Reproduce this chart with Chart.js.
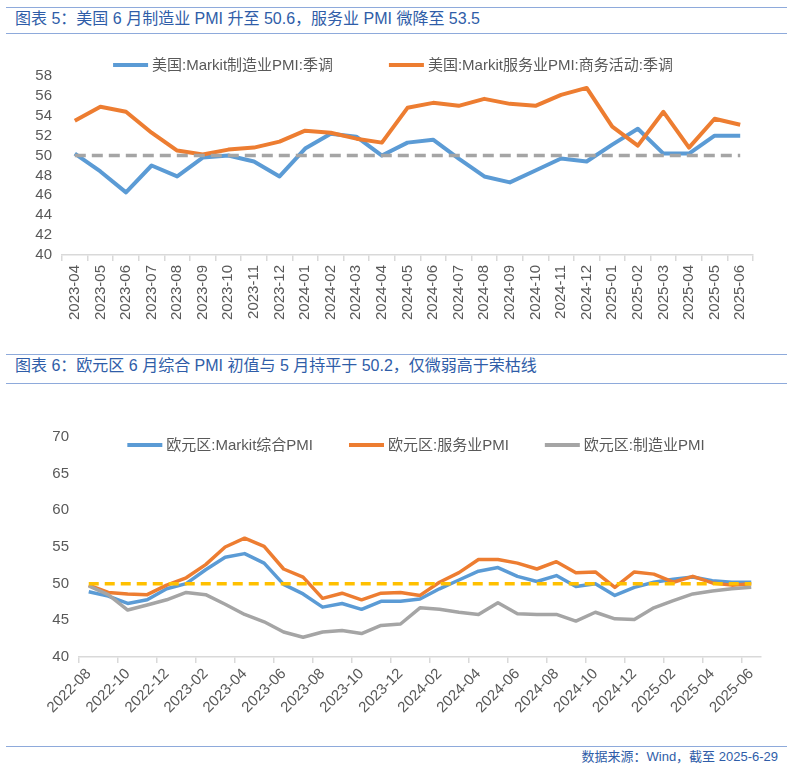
<!DOCTYPE html>
<html>
<head>
<meta charset="utf-8">
<script src="https://cdn.jsdelivr.net/npm/chart.js@4.4.1/dist/chart.umd.min.js"></script>
<style>
  body { margin:0; background:#fff; width:792px; height:776px; position:relative; overflow:hidden;
         font-family:"Liberation Sans","Noto Sans CJK SC",sans-serif; }
  .rule { position:absolute; left:6px; width:781px; height:0; border-top:1.5px solid #8eaadb; }
  .title { position:absolute; left:15px; font-size:16px; line-height:20px; color:#2f5da8; white-space:nowrap; }
  #w1 { position:absolute; left:0; top:36px; width:792px; height:304px; }
  #w2 { position:absolute; left:30px; top:390px; width:762px; height:355px; }
  .src { position:absolute; right:14px; top:749px; font-size:13px; line-height:16px; color:#2f5da8; }
</style>
</head>
<body>
<div class="rule" style="top:7px"></div>
<div class="title" style="top:9px">图表 5：美国 6 月制造业 PMI 升至 50.6，服务业 PMI 微降至 53.5</div>
<div class="rule" style="top:33px"></div>
<div id="w1"><canvas id="c1"></canvas></div>

<div class="rule" style="top:354px"></div>
<div class="title" style="top:356px">图表 6：欧元区 6 月综合 PMI 初值与 5 月持平于 50.2，仅微弱高于荣枯线</div>
<div class="rule" style="top:383px"></div>
<div id="w2"><canvas id="c2"></canvas></div>

<div class="rule" style="top:746px"></div>
<div class="src">数据来源：Wind，截至 2025-6-29</div>

<script>
// ---- data: US Markit PMI ----
var usMonths = ['2023-04','2023-05','2023-06','2023-07','2023-08','2023-09','2023-10','2023-11','2023-12',
  '2024-01','2024-02','2024-03','2024-04','2024-05','2024-06','2024-07','2024-08','2024-09','2024-10','2024-11','2024-12',
  '2025-01','2025-02','2025-03','2025-04','2025-05','2025-06'];
var usMfg = [50.2,48.4,46.3,49.0,47.9,49.8,50.0,49.4,47.9,
  50.7,52.2,51.9,50.0,51.3,51.6,49.7,47.9,47.3,48.5,49.7,49.4,
  51.1,52.7,50.2,50.2,52.0,52.0];
var usSvc = [53.5,54.9,54.4,52.3,50.5,50.1,50.6,50.8,51.4,
  52.5,52.3,51.7,51.3,54.8,55.3,55.0,55.7,55.2,55.0,56.1,56.8,
  52.9,51.0,54.4,50.8,53.7,53.1];
var usLine50 = [50,50,50,50,50,50,50,50,50,50,50,50,50,50,50,50,50,50,50,50,50,50,50,50,50,50,50];

// ---- data: Eurozone PMI ----
var euMonths = ['2022-08','2022-09','2022-10','2022-11','2022-12',
  '2023-01','2023-02','2023-03','2023-04','2023-05','2023-06','2023-07','2023-08','2023-09','2023-10','2023-11','2023-12',
  '2024-01','2024-02','2024-03','2024-04','2024-05','2024-06','2024-07','2024-08','2024-09','2024-10','2024-11','2024-12',
  '2025-01','2025-02','2025-03','2025-04','2025-05','2025-06'];
var euComp = [48.9,48.3,47.3,47.8,49.3,
  50.0,51.9,53.6,54.1,52.8,49.9,48.6,46.8,47.3,46.5,47.6,47.6,
  47.9,49.3,50.5,51.7,52.2,51.0,50.3,51.1,49.6,50.0,48.4,49.5,
  50.2,50.6,50.9,50.4,50.2,50.2];
var euSvc = [49.8,48.8,48.6,48.5,49.8,
  50.8,52.6,55.0,56.2,55.1,52.0,50.9,48.0,48.7,47.8,48.7,48.8,
  48.4,50.2,51.5,53.3,53.3,52.8,52.0,53.0,51.5,51.6,49.5,51.6,
  51.3,50.2,51.0,50.1,49.8,50.0];
var euMfg = [49.7,48.5,46.4,47.1,47.8,
  48.8,48.5,47.2,45.8,44.8,43.4,42.7,43.4,43.6,43.2,44.3,44.5,
  46.7,46.5,46.1,45.8,47.4,45.9,45.8,45.8,44.9,46.1,45.2,45.1,
  46.7,47.7,48.6,49.0,49.3,49.5];
var euLine50 = [50,50,50,50,50,50,50,50,50,50,50,50,50,50,50,50,50,50,50,50,50,50,50,50,50,50,50,50,50,50,50,50,50,50,50];

var FONT = '"Liberation Sans","Noto Sans CJK SC",sans-serif';
var GREY = '#595959';
var BLUE = '#5b9bd5', ORANGE = '#ed7d31', SILVER = '#a5a5a5', GOLD = '#ffc000';

// legend drawn as short line + text, Excel style
function lineLegend(cx, y, itemGap) {
  return {
    id: 'lineLegend',
    afterDraw: function(chart) {
      var ctx = chart.ctx;
      var items = chart.data.datasets.filter(function(d) { return !d.noLegend; });
      ctx.save();
      ctx.font = '15px ' + FONT;
      ctx.textBaseline = 'middle';
      var lineLen = 35, gap = 4;
      var total = 0;
      items.forEach(function(d, i) {
        total += lineLen + gap + ctx.measureText(d.label).width + (i ? itemGap : 0);
      });
      var x = cx - total / 2;
      items.forEach(function(d) {
        ctx.strokeStyle = d.borderColor;
        ctx.lineWidth = 4;
        ctx.beginPath();
        ctx.moveTo(x, y);
        ctx.lineTo(x + lineLen, y);
        ctx.stroke();
        x += lineLen + gap;
        ctx.fillStyle = GREY;
        ctx.fillText(d.label, x, y + 1);
        x += ctx.measureText(d.label).width + itemGap;
      });
      ctx.restore();
    }
  };
}

Chart.defaults.font.family = FONT;
Chart.defaults.color = GREY;

// chart 1 - US
new Chart(document.getElementById('c1'), {
  type: 'line',
  data: {
    labels: usMonths,
    datasets: [
      { label: '美国:Markit制造业PMI:季调', data: usMfg, borderColor: BLUE, borderWidth: 4, order: 2 },
      { label: '美国:Markit服务业PMI:商务活动:季调', data: usSvc, borderColor: ORANGE, borderWidth: 4, order: 1 },
      { label: '荣枯线', data: usLine50, borderColor: SILVER, borderWidth: 3.5, borderDash: [11, 6],
        borderCapStyle: 'butt', order: 0, noLegend: true }
    ]
  },
  options: {
    responsive: true, maintainAspectRatio: false, animation: false,
    elements: { point: { radius: 0 }, line: { tension: 0, borderJoinStyle: 'round' } },
    layout: { padding: { top: 40, right: 39, left: 0, bottom: 0 } },
    plugins: { legend: { display: false }, tooltip: { enabled: false } },
    scales: {
      x: {
        offset: true,
        grid: { offset: true, drawOnChartArea: false, tickLength: 6, color: '#d9d9d9', lineWidth: 1.5 },
        border: { color: '#d9d9d9', width: 1.5 },
        ticks: { autoSkip: false, minRotation: 90, maxRotation: 90, padding: 4, color: GREY, font: { size: 15 } },
        afterFit: function(s) { s.height = 85; }
      },
      y: {
        min: 40, max: 58,
        ticks: { stepSize: 2, autoSkip: false, padding: 10, color: GREY, font: { size: 15 } },
        grid: { display: false, drawTicks: false },
        border: { display: false },
        afterFit: function(s) { s.width = 62; }
      }
    }
  },
  plugins: [lineLegend(393, 29, 56)]
});

// chart 2 - Eurozone
new Chart(document.getElementById('c2'), {
  type: 'line',
  data: {
    labels: euMonths,
    datasets: [
      { label: '欧元区:Markit综合PMI', data: euComp, borderColor: BLUE, borderWidth: 3.5, order: 3 },
      { label: '欧元区:服务业PMI', data: euSvc, borderColor: ORANGE, borderWidth: 3.5, order: 2 },
      { label: '欧元区:制造业PMI', data: euMfg, borderColor: SILVER, borderWidth: 3.5, order: 1 },
      { label: '荣枯线', data: euLine50, borderColor: GOLD, borderWidth: 3.5, borderDash: [10, 6],
        borderCapStyle: 'butt', order: 0, noLegend: true }
    ]
  },
  options: {
    responsive: true, maintainAspectRatio: false, animation: false,
    elements: { point: { radius: 0 }, line: { tension: 0, borderJoinStyle: 'round' } },
    layout: { padding: { top: 47, right: 31, left: 0, bottom: 0 } },
    plugins: { legend: { display: false }, tooltip: { enabled: false } },
    scales: {
      x: {
        offset: true,
        grid: {
          offset: true, drawOnChartArea: false, tickLength: 6, lineWidth: 1.5,
          color: function(c) { return c.index % 2 === 0 ? '#d9d9d9' : 'rgba(0,0,0,0)'; }
        },
        border: { color: '#d9d9d9', width: 1.5 },
        ticks: {
          autoSkip: false, minRotation: 45, maxRotation: 45, padding: 2, color: GREY, font: { size: 15 },
          callback: function(v, i) { return i % 2 === 0 ? this.getLabelForValue(v) : ''; }
        },
        afterFit: function(s) { s.height = 88; }
      },
      y: {
        min: 40, max: 70,
        ticks: { stepSize: 5, autoSkip: false, padding: 10, color: GREY, font: { size: 15 } },
        grid: { display: false, drawTicks: false },
        border: { display: false },
        afterFit: function(s) { s.width = 49; }
      }
    }
  },
  plugins: [lineLegend(386, 55, 36)]
});
</script>
</body>
</html>
